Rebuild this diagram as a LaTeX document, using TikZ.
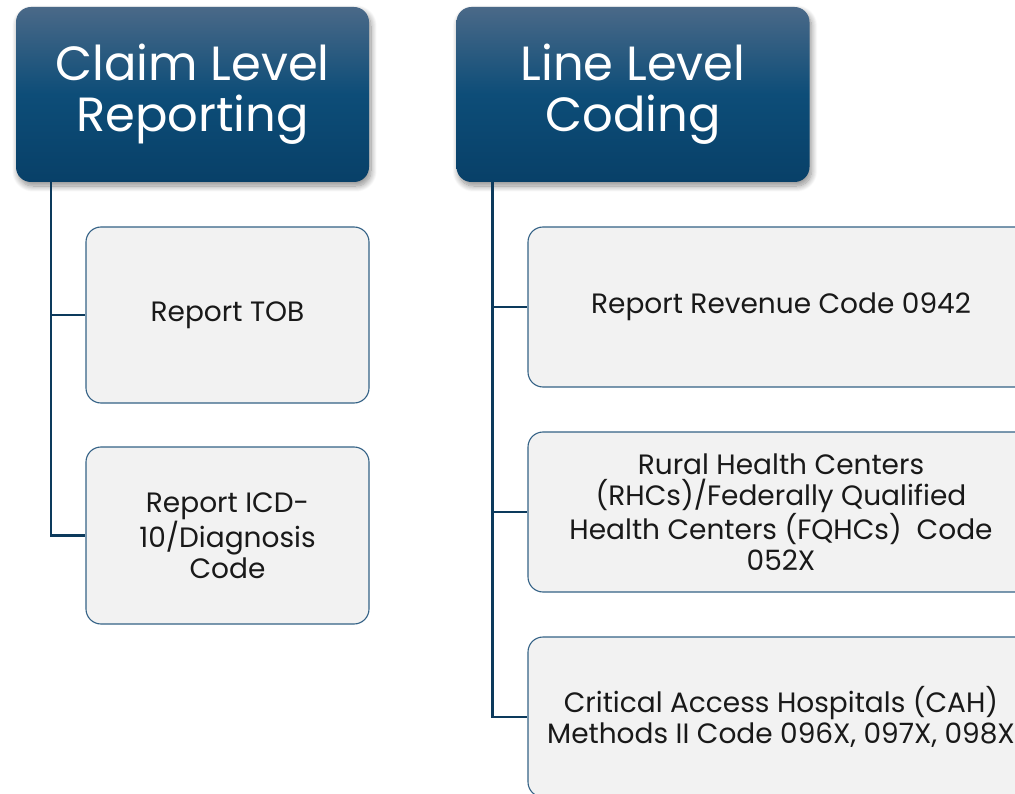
\documentclass[tikz,border=0pt]{standalone}
\usepackage{fontspec}
\setmainfont{Poppins}
\usetikzlibrary{shadows.blur,calc}
\definecolor{headtop}{RGB}{74,105,136}
\definecolor{headmid}{RGB}{13,77,120}
\definecolor{headbot}{RGB}{8,64,104}
\definecolor{boxfill}{RGB}{242,242,242}
\definecolor{boxline}{RGB}{52,98,134}
\definecolor{connline}{RGB}{12,58,92}
\tikzset{
  head/.style={rounded corners=15pt, top color=headtop, bottom color=headbot, middle color=headmid,
    text=white, align=center, minimum width=353pt, minimum height=175pt, inner sep=0pt,
    font=\fontsize{48}{51}\selectfont,
    blur shadow={shadow xshift=2pt, shadow yshift=-4pt, shadow blur steps=12, shadow opacity=45, shadow blur radius=6pt}},
  child/.style={rounded corners=15pt, fill=boxfill, draw=boxline, line width=1.1pt, align=center,
    inner sep=0pt, font=\fontsize{28}{31}\selectfont, text=black!90},
  conn/.style={draw=connline, line width=2.6pt}
}
\begin{document}
\begin{tikzpicture}[x=1pt,y=-1pt]
\useasboundingbox (0,0) rectangle (1015,794);
\clip (0,0) rectangle (1015,794);
% headers
\node[head] (h1) at (192.5,94.5) {Claim Level\\Reporting};
\node[head] (h2) at (633,94.5) {Line Level\\Coding};
% left children
\node[child, minimum width=283pt, minimum height=176pt] (c1) at (227.5,315) {Report TOB};
\node[child, minimum width=283pt, minimum height=177pt] (c2) at (227.5,535.5) {Report ICD-\\10/Diagnosis\\Code};
% right children
\node[child, minimum width=506pt, minimum height=160pt] (r1) at (781,307) {Report Revenue Code 0942};
\node[child, minimum width=506pt, minimum height=160pt] (r2) at (781,512) {Rural Health Centers\\(RHCs)/Federally Qualified\\Health Centers (FQHCs)\ \ Code\\052X};
\node[child, minimum width=506pt, minimum height=160pt] (r3) at (781,717) {Critical Access Hospitals (CAH)\\Methods II Code 096X, 097X, 098X};
% connectors
\coordinate (s1) at ([xshift=35pt]h1.south west);
\coordinate (s2) at ([xshift=36pt]h2.south west);
\draw[conn] (s1) |- (c1.west);
\draw[conn] (s1) |- (c2.west);
\draw[conn] (s2) |- (r1.west);
\draw[conn] (s2) |- (r2.west);
\draw[conn] (s2) |- (r3.west);
\end{tikzpicture}
\end{document}
